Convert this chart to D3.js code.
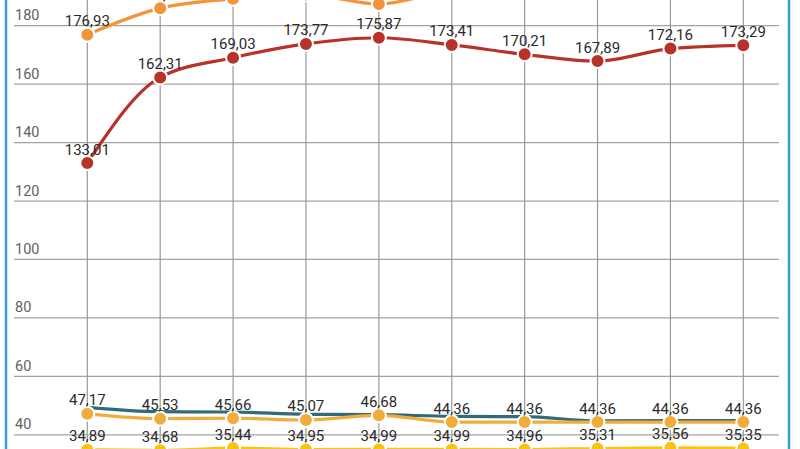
<!DOCTYPE html>
<html>
<head>
<meta charset="utf-8">
<script src="https://cdn.jsdelivr.net/npm/d3@7"></script>
<style>
  html, body { margin: 0; padding: 0; background: #ffffff; }
  svg { display: block; }
  text { font-family: Roboto, "Noto Sans", sans-serif; }
</style>
</head>
<body>
<div id="chart"></div>
<script>
// ---- data ----
const categories = ["1", "2", "3", "4", "5", "6", "7", "8", "9", "10"];
const yTicks = [40, 60, 80, 100, 120, 140, 160, 180];

const orangeValues = [176.93, 186.0, 189.2, 190.7, 187.4, 192.0, 193.0, 192.5, 194.0, 194.5];
const redValues    = [133.01, 162.31, 169.03, 173.77, 175.87, 173.41, 170.21, 167.89, 172.16, 173.29];
const tealValues   = [49.4, 47.9, 47.8, 47.0, 46.9, 46.3, 46.2, 44.8, 44.9, 44.9];
const amberValues  = [47.17, 45.53, 45.66, 45.07, 46.68, 44.36, 44.36, 44.36, 44.36, 44.36];
const yellowValues = [34.89, 34.68, 35.44, 34.95, 34.99, 34.99, 34.96, 35.31, 35.56, 35.35];

const series = [
  { name: "orange", values: orangeValues, color: "#f2943a", markers: true,  labels: true },
  { name: "red",    values: redValues,    color: "#b8322a", markers: true,  labels: true },
  { name: "teal",   values: tealValues,   color: "#2f6b78", markers: false, labels: false },
  { name: "amber",  values: amberValues,  color: "#f0ad3c", markers: true,  labels: true },
  { name: "yellow", values: yellowValues, color: "#f5c417", markers: true,  labels: true }
];

// ---- layout ----
const W = 800, H = 449;
const svg = d3.select("#chart").append("svg")
  .attr("width", W).attr("height", H)
  .style("overflow", "hidden");

svg.append("rect").attr("width", W).attr("height", H).attr("fill", "#ffffff");

const x = d3.scalePoint().domain(categories).range([87.3, 743.3]).padding(0);
const y = d3.scaleLinear().domain([40, 180]).range([434.8, 25.7]);

const gridLeft = 14, gridRight = 779;

// horizontal grid
svg.append("g").selectAll("line").data(yTicks).join("line")
  .attr("x1", gridLeft).attr("x2", gridRight)
  .attr("y1", d => y(d)).attr("y2", d => y(d))
  .attr("stroke", "#a3a3a3").attr("stroke-width", 1.2);

// vertical grid
svg.append("g").selectAll("line").data(categories).join("line")
  .attr("x1", d => x(d)).attr("x2", d => x(d))
  .attr("y1", 0).attr("y2", H)
  .attr("stroke", "#999999").attr("stroke-width", 1.2);

// y tick labels
svg.append("g").selectAll("text").data(yTicks).join("text")
  .attr("x", 15).attr("y", d => y(d) - 5.5)
  .attr("font-size", 14.5).attr("fill", "#626262")
  .text(d => d);

// lines
const line = d3.line()
  .x((d, i) => x(categories[i]))
  .y(d => y(d))
  .curve(d3.curveMonotoneX);

const order = ["yellow", "teal", "amber", "red", "orange"];
order.forEach(name => {
  const s = series.find(t => t.name === name);
  svg.append("path").datum(s.values)
    .attr("d", line)
    .attr("fill", "none")
    .attr("stroke", s.color)
    .attr("stroke-width", 3.2)
    .attr("stroke-linejoin", "round");
});

// markers
order.forEach(name => {
  const s = series.find(t => t.name === name);
  if (!s.markers) return;
  svg.append("g").selectAll("circle").data(s.values).join("circle")
    .attr("cx", (d, i) => x(categories[i]))
    .attr("cy", d => y(d))
    .attr("r", 7)
    .attr("fill", s.color)
    .attr("stroke", "#ffffff")
    .attr("stroke-width", 2);
});

// value labels
const fmt = v => d3.format(".2f")(v).replace(".", ",");
order.forEach(name => {
  const s = series.find(t => t.name === name);
  if (!s.labels) return;
  svg.append("g").selectAll("text").data(s.values).join("text")
    .attr("x", (d, i) => x(categories[i]))
    .attr("y", d => y(d) - 8.5)
    .attr("text-anchor", "middle")
    .attr("font-size", 15)
    .attr("fill", "#2b2b2b")
    .text(d => fmt(d));
});

// blue side borders
svg.append("line").attr("x1", 6).attr("x2", 6).attr("y1", 0).attr("y2", H)
  .attr("stroke", "#3a9ad8").attr("stroke-width", 2.5);
svg.append("line").attr("x1", 789).attr("x2", 789).attr("y1", 0).attr("y2", H)
  .attr("stroke", "#3a9ad8").attr("stroke-width", 2.5);
</script>
</body>
</html>
